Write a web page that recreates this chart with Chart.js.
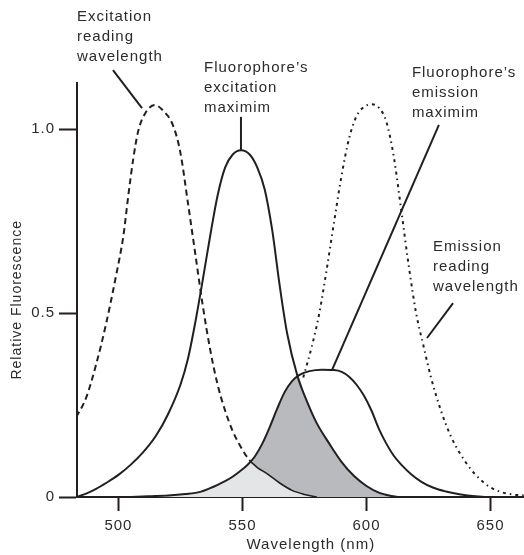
<!DOCTYPE html>
<html><head><meta charset="utf-8">
<script src="https://cdn.jsdelivr.net/npm/chart.js@4/dist/chart.umd.min.js"></script>
<style>html,body{margin:0;padding:0;background:#fff;overflow:hidden}canvas{display:block}</style>
</head><body>
<canvas id="c" width="524" height="555"></canvas>
<script>
// ---- tick values / labels ----
const xTicks = [500, 550, 600, 650];
const yTicks = [0, 0.5, 1.0];
const yTickLabels = ['0', '0.5', '1.0'];

// ---- Excitation reading wavelength (dashed) ----
const excReadX = [483, 487, 491, 495, 499, 502, 504, 506, 508, 511, 514.7, 518, 522, 525, 528, 531, 534, 537, 540, 543, 546, 549, 551.5, 553.5];
const excReadY = [0.217, 0.27, 0.36, 0.47, 0.6, 0.71, 0.82, 0.92, 0.995, 1.045, 1.065, 1.05, 1.01, 0.935, 0.8, 0.66, 0.52, 0.4, 0.305, 0.235, 0.18, 0.14, 0.112, 0.095];
// continuation of excitation reading curve inside the overlap (solid)
const excReadTailX = [553.5, 556, 560, 565, 570, 575, 580];
const excReadTailY = [0.095, 0.08, 0.063, 0.038, 0.018, 0.007, 0];

// ---- Fluorophore excitation spectrum ----
const excX = [483, 487, 491, 495, 500, 505, 510, 515, 520, 525, 528, 531, 534, 537, 540, 543, 546, 549.4, 553, 556, 559, 562, 565, 568, 572.2, 576, 580, 585, 590, 595, 600, 605, 610, 613];
const excY = [0, 0.009, 0.022, 0.038, 0.06, 0.088, 0.122, 0.165, 0.225, 0.305, 0.375, 0.475, 0.59, 0.71, 0.82, 0.895, 0.93, 0.942, 0.93, 0.895, 0.835, 0.725, 0.575, 0.445, 0.328, 0.26, 0.2, 0.145, 0.095, 0.057, 0.03, 0.012, 0.003, 0];

// ---- Fluorophore emission spectrum ----
const emX = [505, 512, 520, 527, 533, 537, 540, 543, 546, 549, 552, 555, 558, 561, 564, 567, 570, 573, 577, 582, 587, 590, 593, 596, 599, 602, 605, 608, 611, 614, 618, 622, 627, 632, 638, 644, 648];
const emY = [0, 0.002, 0.004, 0.008, 0.014, 0.024, 0.033, 0.043, 0.055, 0.07, 0.087, 0.11, 0.145, 0.19, 0.24, 0.285, 0.315, 0.332, 0.342, 0.346, 0.345, 0.34, 0.327, 0.305, 0.275, 0.235, 0.185, 0.145, 0.112, 0.088, 0.062, 0.042, 0.025, 0.015, 0.007, 0.002, 0];

// ---- Emission reading wavelength (dotted) ----
const emReadX = [574.5, 578, 581, 584, 587, 590, 593, 596, 599, 602.2, 605, 608, 611, 614, 617, 620, 623, 626, 630, 634, 638, 642, 646, 650, 655, 660, 664];
const emReadY = [0.325, 0.41, 0.5, 0.62, 0.75, 0.875, 0.975, 1.035, 1.06, 1.067, 1.058, 1.02, 0.925, 0.78, 0.63, 0.5, 0.41, 0.325, 0.235, 0.165, 0.115, 0.076, 0.047, 0.026, 0.012, 0.006, 0.004];

// ---- Overlap areas (upper boundary of shaded regions) ----
const darkX = [505, 512, 520, 527, 533, 537, 540, 543, 546, 549, 552, 555, 558, 561, 564, 567, 570, 572.2, 576, 580, 585, 590, 595, 600, 605, 610, 613];
const darkY = [0, 0.002, 0.004, 0.008, 0.014, 0.024, 0.033, 0.043, 0.055, 0.07, 0.087, 0.11, 0.145, 0.19, 0.24, 0.285, 0.315, 0.328, 0.26, 0.2, 0.145, 0.095, 0.057, 0.03, 0.012, 0.003, 0];
const lightX = [505, 512, 520, 527, 533, 537, 540, 543, 546, 549, 552, 553.5, 556, 560, 565, 570, 575, 580];
const lightY = [0, 0.002, 0.004, 0.008, 0.014, 0.024, 0.033, 0.043, 0.055, 0.07, 0.087, 0.095, 0.08, 0.063, 0.038, 0.018, 0.007, 0];

// ---- Annotations (text anchor and leader line, in data units) ----
const annotations = [
  { lines: ['Excitation', 'reading', 'wavelength'], at: [483.3, 1.304], leader: [497.8, 1.160, 509.5, 1.057] },
  { lines: ['Fluorophore\u2019s', 'excitation', 'maximim'], at: [534.5, 1.166], leader: [549.4, 1.033, 549.4, 0.942] },
  { lines: ['Fluorophore\u2019s', 'emission', 'maximim'], at: [618.3, 1.152], leader: [629.2, 1.011, 586.1, 0.345] },
  { lines: ['Emission', 'reading', 'wavelength'], at: [626.8, 0.679], leader: [634.9, 0.527, 624.4, 0.432] }
];

const INK = '#231f20';
const TEXT = '#2b2b2b';
const FONT = "'Liberation Sans', Arial, sans-serif";

function pts(xs, ys) { return xs.map((x, i) => ({ x: x, y: ys[i] })); }

const lineBase = { pointRadius: 0, borderColor: INK, fill: false, cubicInterpolationMode: 'monotone' };

const bgPlugin = {
  id: 'bg',
  beforeDraw(chart) {
    const ctx = chart.ctx;
    ctx.save();
    ctx.fillStyle = '#ffffff';
    ctx.fillRect(0, 0, chart.width, chart.height);
    ctx.restore();
    ctx.letterSpacing = '1px';
  }
};

const annPlugin = {
  id: 'ann',
  afterDraw(chart) {
    const ctx = chart.ctx, xs = chart.scales.x, ys = chart.scales.y;
    ctx.save();
    ctx.letterSpacing = '1px';
    ctx.font = '15px ' + FONT;
    ctx.fillStyle = TEXT;
    ctx.textBaseline = 'middle';
    ctx.textAlign = 'left';
    ctx.strokeStyle = INK;
    ctx.lineWidth = 2;
    annotations.forEach(a => {
      const tx = xs.getPixelForValue(a.at[0]), ty = ys.getPixelForValue(a.at[1]);
      a.lines.forEach((t, i) => ctx.fillText(t, tx, ty + i * 20));
      ctx.beginPath();
      ctx.moveTo(xs.getPixelForValue(a.leader[0]), ys.getPixelForValue(a.leader[1]));
      ctx.lineTo(xs.getPixelForValue(a.leader[2]), ys.getPixelForValue(a.leader[3]));
      ctx.stroke();
    });
    ctx.restore();
  }
};

new Chart(document.getElementById('c'), {
  type: 'line',
  data: {
    datasets: [
      Object.assign({}, lineBase, { label: 'Excitation reading wavelength', data: pts(excReadX, excReadY), borderWidth: 2, borderDash: [6, 4], order: 0 }),
      Object.assign({}, lineBase, { label: 'Excitation reading (overlap)', data: pts(excReadTailX, excReadTailY), borderWidth: 1.6, order: 1 }),
      Object.assign({}, lineBase, { label: 'Fluorophore excitation', data: pts(excX, excY), borderWidth: 2, order: 2 }),
      Object.assign({}, lineBase, { label: 'Fluorophore emission', data: pts(emX, emY), borderWidth: 2, order: 3 }),
      Object.assign({}, lineBase, { label: 'Emission reading wavelength', data: pts(emReadX, emReadY), borderWidth: 2, borderDash: [3, 4, 1.5, 4], order: 4 }),
      { label: 'Overlap (excitation/emission)', data: pts(darkX, darkY), fill: 'origin', backgroundColor: '#b9babe', borderWidth: 0, pointRadius: 0, cubicInterpolationMode: 'monotone', order: 10 },
      { label: 'Overlap (reading/emission)', data: pts(lightX, lightY), fill: 'origin', backgroundColor: '#e4e5e7', borderWidth: 0, pointRadius: 0, cubicInterpolationMode: 'monotone', order: 9 }
    ]
  },
  options: {
    responsive: false,
    animation: false,
    devicePixelRatio: 1,
    layout: { padding: { top: 83, left: 0, right: 0, bottom: 0 } },
    plugins: { legend: { display: false }, tooltip: { enabled: false } },
    scales: {
      x: {
        type: 'linear', min: 483.3, max: 663.5,
        afterBuildTicks: s => { s.ticks = xTicks.map(v => ({ value: v })); },
        afterFit: s => { s.height = 58; },
        grid: { display: true, drawOnChartArea: false, drawTicks: true, tickLength: 14, tickWidth: 2, tickColor: INK, color: INK },
        border: { display: true, color: INK, width: 2 },
        ticks: { color: TEXT, font: { family: FONT, size: 15 }, padding: 6, maxRotation: 0, autoSkip: false, callback: v => String(v) },
        title: { display: true, text: '\u00a0\u00a0\u00a0\u00a0Wavelength (nm)', color: TEXT, font: { family: FONT, size: 15 }, padding: { top: 0, bottom: 1 } }
      },
      y: {
        type: 'linear', min: 0, max: 1.125,
        afterBuildTicks: s => { s.ticks = yTicks.map(v => ({ value: v })); },
        afterFit: s => { s.width = 77; },
        grid: { display: true, drawOnChartArea: false, drawTicks: true, tickLength: 18, tickWidth: 2, tickColor: INK, color: INK },
        border: { display: true, color: INK, width: 2 },
        ticks: { color: TEXT, font: { family: FONT, size: 15 }, padding: 4, autoSkip: false, callback: v => yTickLabels[yTicks.indexOf(v)] },
        title: { display: true, text: 'Relative Fluorescence\u00a0\u00a0\u00a0\u00a0', color: TEXT, font: { family: FONT, size: 14 }, padding: { top: 9, bottom: 0 } }
      }
    }
  },
  plugins: [bgPlugin, annPlugin]
});
</script>
</body></html>
